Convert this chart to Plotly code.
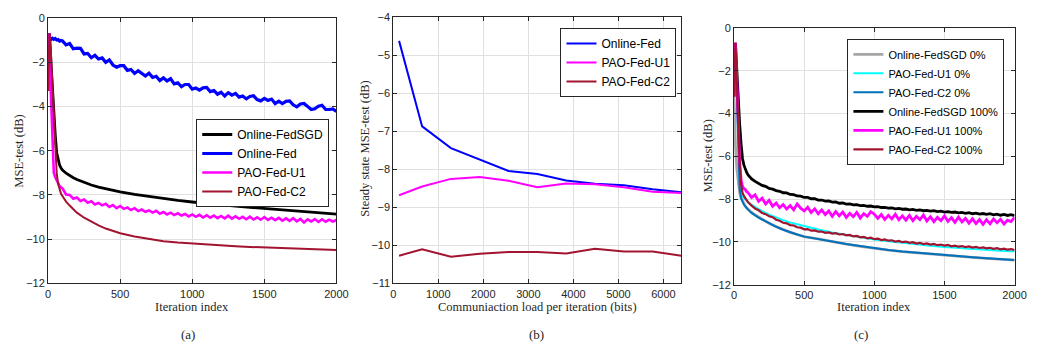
import plotly.graph_objects as go

# ---------------- data ----------------
ITER_EARLY = [0, 5, 10, 20, 30, 40, 50, 60, 70, 80, 90]
ITER_DENSE = ITER_EARLY + list(range(100, 2001, 25))
ITER_SPARSE = ITER_EARLY + [100, 125, 150, 175, 200, 250, 300, 350, 400, 450, 500] + list(range(600, 2001, 100))

# panel (a)
A_ONLINE_FEDSGD = [-3.3, -1.2, -0.7, -2.0, -3.3, -4.5, -5.3, -6.1, -6.45, -6.65, -6.78,
                   -6.88, -7.02, -7.13, -7.22, -7.30,
                   -7.43, -7.55, -7.65, -7.73, -7.80, -7.86,
                   -7.98, -8.08, -8.17, -8.25, -8.32, -8.39, -8.45, -8.51, -8.56, -8.61,
                   -8.66, -8.71, -8.76, -8.81, -8.87]
A_ONLINE_FED = [-0.95, -0.90, -0.94, -0.97, -0.92, -0.97, -0.93, -1.0, -0.98, -1.05, -1.02,
                -1.04, -1.22, -1.16, -1.40, -1.37, -1.38, -1.63, -1.61,
                -1.80, -1.69, -1.86, -1.81, -2.01, -1.90, -2.13, -2.23,
                -2.16, -2.16, -2.37, -2.33, -2.51, -2.39, -2.49, -2.63,
                -2.50, -2.69, -2.64, -2.83, -2.71, -2.85, -2.75, -2.98,
                -2.93, -3.11, -3.01, -3.01, -3.22, -3.17, -3.26, -3.16,
                -3.14, -3.33, -3.28, -3.45, -3.36, -3.53, -3.38, -3.49,
                -3.41, -3.58, -3.53, -3.66, -3.55, -3.52, -3.69, -3.75,
                -3.64, -3.73, -3.67, -3.87, -3.76, -3.87, -3.77, -3.75,
                -3.93, -4.02, -3.89, -3.87, -4.00, -4.14, -4.11, -3.99,
                -3.95, -4.14, -4.14, -4.11, -4.23]
A_PAO_U1 = [-3.3, -1.0, -0.7, -3.5, -5.5, -7.0, -7.2, -7.35, -7.45, -7.6, -7.65,
            -7.70, -7.98, -8.00, -8.17, -8.12, -8.27, -8.21, -8.35,
            -8.29, -8.43, -8.36, -8.47, -8.40, -8.54, -8.46, -8.60,
            -8.50, -8.63, -8.57, -8.68, -8.60, -8.73, -8.66, -8.76,
            -8.70, -8.80, -8.72, -8.85, -8.77, -8.88, -8.80, -8.91,
            -8.83, -8.93, -8.86, -8.97, -8.88, -8.99, -8.90, -9.02,
            -8.92, -9.03, -8.93, -9.05, -8.95, -9.06, -8.94, -9.07,
            -8.97, -9.08, -8.99, -9.10, -8.98, -9.11, -9.01, -9.12,
            -9.00, -9.13, -9.03, -9.14, -9.04, -9.16, -9.06, -9.17,
            -9.05, -9.19, -9.08, -9.24, -9.10, -9.20, -9.09, -9.22,
            -9.10, -9.21, -9.12, -9.20, -9.13]
A_PAO_C2 = [-3.3, -1.0, -0.7, -1.6, -2.9, -4.3, -5.8, -7.0, -7.5, -7.8, -7.95,
            -8.05, -8.30, -8.48, -8.65, -8.80,
            -9.03, -9.22, -9.38, -9.52, -9.63, -9.73,
            -9.88, -10.00, -10.09, -10.15, -10.20, -10.25, -10.29, -10.32, -10.35, -10.37,
            -10.40, -10.42, -10.44, -10.46, -10.49]

# panel (b)
LOAD_BITS = [128, 640, 1280, 1920, 2560, 3200, 3840, 4480, 5120, 5760, 6400]
B_ONLINE_FED = [-4.62, -6.87, -7.44, -7.74, -8.04, -8.12, -8.29, -8.38, -8.42, -8.52, -8.60]
B_PAO_U1 = [-8.68, -8.45, -8.25, -8.20, -8.30, -8.47, -8.37, -8.39, -8.47, -8.59, -8.62]
B_PAO_C2 = [-10.27, -10.10, -10.30, -10.22, -10.17, -10.17, -10.21, -10.09, -10.16, -10.16, -10.27]

# panel (c)
C_FEDSGD_0 = [-3.2, -4.5, -5.5, -6.6, -7.3, -7.7, -7.95, -8.1, -8.22, -8.32, -8.40,
              -8.47, -8.62, -8.74, -8.84, -8.93,
              -9.12, -9.28, -9.42, -9.55, -9.65, -9.75,
              -9.85, -9.98, -10.10, -10.20, -10.30, -10.38, -10.45, -10.51, -10.57, -10.62,
              -10.67, -10.72, -10.77, -10.81, -10.85]
C_U1_0 = [-3.2, -1.0, -0.7, -3.0, -5.3, -7.0, -7.6, -7.85, -7.95, -8.02, -8.08,
          -8.13, -8.27, -8.38, -8.48, -8.56,
          -8.72, -8.86, -8.98, -9.09, -9.18, -9.26,
          -9.42, -9.56, -9.68, -9.79, -9.89, -9.97, -10.05, -10.12, -10.18, -10.23,
          -10.28, -10.33, -10.37, -10.41, -10.44]
C_C2_0 = [-3.2, -1.0, -0.7, -3.2, -6.0, -7.5, -7.95, -8.12, -8.25, -8.34, -8.42,
          -8.49, -8.64, -8.76, -8.86, -8.95,
          -9.13, -9.29, -9.43, -9.55, -9.65, -9.75,
          -9.85, -9.98, -10.09, -10.19, -10.29, -10.37, -10.44, -10.50, -10.56, -10.61,
          -10.66, -10.71, -10.76, -10.80, -10.84]
C_FEDSGD_100 = [-3.2, -1.0, -0.7, -2.0, -3.4, -4.5, -5.4, -6.1, -6.4, -6.6, -6.75,
                -6.87, -7.05, -7.17, -7.25, -7.36, -7.40, -7.50, -7.53,
                -7.60, -7.63, -7.70, -7.71, -7.78, -7.79, -7.85, -7.86,
                -7.92, -7.92, -7.98, -7.98, -8.04, -8.04, -8.09, -8.08,
                -8.14, -8.13, -8.19, -8.18, -8.23, -8.22, -8.27, -8.26,
                -8.30, -8.29, -8.33, -8.32, -8.36, -8.35, -8.39, -8.38,
                -8.42, -8.41, -8.45, -8.43, -8.47, -8.46, -8.50, -8.48,
                -8.52, -8.50, -8.54, -8.52, -8.56, -8.54, -8.58, -8.56,
                -8.60, -8.58, -8.62, -8.60, -8.64, -8.62, -8.66, -8.63,
                -8.68, -8.65, -8.70, -8.67, -8.71, -8.68, -8.73, -8.70,
                -8.75, -8.71, -8.76, -8.72, -8.77]
C_U1_100 = [-3.2, -1.0, -0.7, -2.5, -4.5, -6.2, -7.1, -7.4, -7.5, -7.55, -7.65,
            -7.70, -7.92, -7.80, -8.10, -7.95, -8.22, -8.05, -8.33,
            -8.18, -8.40, -8.25, -8.46, -8.30, -8.50, -8.22, -8.42,
            -8.55, -8.38, -8.62, -8.45, -8.68, -8.50, -8.72, -8.55,
            -8.80, -8.58, -8.78, -8.60, -8.85, -8.66, -8.82, -8.62,
            -8.88, -8.68, -8.80, -8.58, -8.70, -8.90, -8.72, -8.95,
            -8.75, -8.92, -8.70, -8.96, -8.78, -8.98, -8.76, -9.00,
            -8.80, -8.96, -8.74, -9.02, -8.82, -9.05, -8.85, -9.00,
            -8.78, -9.04, -8.86, -9.08, -8.84, -9.06, -8.90, -9.12,
            -8.92, -9.14, -8.95, -9.18, -8.96, -9.15, -8.92, -9.10,
            -8.94, -9.16, -8.98, -9.05, -8.85]
C_C2_100 = [-3.2, -1.0, -0.7, -2.6, -4.6, -6.3, -7.3, -7.7, -7.85, -7.95, -8.05,
            -8.15, -8.30, -8.44, -8.52, -8.65, -8.70, -8.80, -8.84,
            -8.96, -9.01, -9.10, -9.13, -9.21, -9.23, -9.31, -9.33,
            -9.41, -9.40, -9.47, -9.46, -9.52, -9.51, -9.57, -9.55,
            -9.61, -9.59, -9.65, -9.63, -9.69, -9.67, -9.74, -9.72,
            -9.78, -9.76, -9.83, -9.80, -9.87, -9.84, -9.91, -9.88,
            -9.94, -9.92, -9.98, -9.95, -10.01, -9.98, -10.04, -10.01,
            -10.07, -10.04, -10.10, -10.07, -10.12, -10.09, -10.15, -10.12,
            -10.17, -10.14, -10.20, -10.17, -10.22, -10.19, -10.24, -10.21,
            -10.26, -10.23, -10.28, -10.25, -10.30, -10.27, -10.32, -10.29,
            -10.34, -10.31, -10.36, -10.33, -10.38]

# ---------------- styles ----------------
BLACK = "#000000"
BLUE = "#0000FF"
MAGENTA = "#FF00FF"
DARKRED = "#A2142F"
GRAY = "#A6A6A6"
CYAN = "#00FFFF"
MBLUE = "#0072BD"

W, H = 1045, 350
SANS = "Liberation Sans, Arial, sans-serif"
SERIF = "Liberation Serif, Times New Roman, serif"
AXC = "#262626"


def px_dom_x(a, b):
    return [a / W, b / W]


def px_dom_y(top, bottom):
    return [1 - bottom / H, 1 - top / H]


fig = go.Figure()


def add(x, y, name, color, width, xa, ya, legend):
    fig.add_trace(go.Scatter(x=x, y=y, name=name, mode="lines",
                             line=dict(color=color, width=width),
                             xaxis=xa, yaxis=ya, legend=legend))


# panel (a)
add(ITER_SPARSE, A_ONLINE_FEDSGD, "Online-FedSGD", BLACK, 2.8, "x", "y", "legend")
add(ITER_DENSE, A_ONLINE_FED, "Online-Fed", BLUE, 3.2, "x", "y", "legend")
add(ITER_DENSE, A_PAO_U1, "PAO-Fed-U1", MAGENTA, 2.6, "x", "y", "legend")
add(ITER_SPARSE, A_PAO_C2, "PAO-Fed-C2", DARKRED, 2.0, "x", "y", "legend")

# panel (b)
add(LOAD_BITS, B_ONLINE_FED, "Online-Fed", BLUE, 2.0, "x2", "y2", "legend2")
add(LOAD_BITS, B_PAO_U1, "PAO-Fed-U1", MAGENTA, 2.0, "x2", "y2", "legend2")
add(LOAD_BITS, B_PAO_C2, "PAO-Fed-C2", DARKRED, 2.0, "x2", "y2", "legend2")

# panel (c)
add(ITER_SPARSE, C_FEDSGD_0, "Online-FedSGD 0%", GRAY, 2.8, "x3", "y3", "legend3")
add(ITER_SPARSE, C_U1_0, "PAO-Fed-U1 0%", CYAN, 2.0, "x3", "y3", "legend3")
add(ITER_SPARSE, C_C2_0, "PAO-Fed-C2 0%", MBLUE, 2.0, "x3", "y3", "legend3")
add(ITER_DENSE, C_FEDSGD_100, "Online-FedSGD 100%", BLACK, 2.8, "x3", "y3", "legend3")
add(ITER_DENSE, C_U1_100, "PAO-Fed-U1 100%", MAGENTA, 2.8, "x3", "y3", "legend3")
add(ITER_DENSE, C_C2_100, "PAO-Fed-C2 100%", DARKRED, 2.2, "x3", "y3", "legend3")


def ax(dom, rng, dtick, anchor):
    return dict(domain=dom, range=rng, dtick=dtick, tick0=0, anchor=anchor,
                showline=True, linecolor=AXC, linewidth=1, mirror="ticks",
                ticks="inside", ticklen=4, tickcolor=AXC,
                showgrid=True, gridcolor="#E0E0E0", gridwidth=1, zeroline=False,
                tickfont=dict(family=SANS, size=11, color=AXC))


def leg(xpx, ypx, size):
    return dict(x=xpx / W, y=1 - ypx / H, xanchor="right", yanchor="top",
                bgcolor="white", bordercolor=AXC, borderwidth=1,
                font=dict(family=SANS, size=size, color="#000"), tracegroupgap=0)


fig.update_layout(
    width=W, height=H, margin=dict(l=0, r=0, t=0, b=0),
    paper_bgcolor="white", plot_bgcolor="white",
    xaxis=ax(px_dom_x(45.7, 338.3), [0, 2000], 500, "y"),
    yaxis=ax(px_dom_y(12.3, 287.3), [-12, 0], 2, "x"),
    xaxis2=ax(px_dom_x(396, 688.3), [0, 6400], 1000, "y2"),
    yaxis2=ax(px_dom_y(11.7, 287.3), [-11, -4], 1, "x2"),
    xaxis3=ax(px_dom_x(741.7, 1026.3), [0, 2000], 500, "y3"),
    yaxis3=ax(px_dom_y(22.7, 288.7), [-12, 0], 2, "x3"),
    legend=leg(331, 117, 12),
    legend2=leg(683.3, 22.7, 12),
    legend3=leg(1016, 34, 11),
    showlegend=True,
)


def note(text, xpx, ypx, size=12.5, angle=0):
    fig.add_annotation(text=text, x=xpx / W, y=1 - ypx / H, xref="paper", yref="paper",
                       showarrow=False, textangle=angle, xanchor="center", yanchor="middle",
                       font=dict(family=SERIF, size=size, color=AXC))


note("Iteration index", 192, 312)
note("MSE-test (dB)", 16, 150, angle=-90)
note("Communiaction load per iteration (bits)", 542, 312)
note("Steady state MSE-test (dB)", 367, 148, angle=-90)
note("Iteration index", 884, 312)
note("MSE-test (dB)", 715, 155, angle=-90)
note("(a)", 188, 340, size=13)
note("(b)", 541, 340, size=13)
note("(c)", 871, 340, size=13)

fig.write_html("out.html")
